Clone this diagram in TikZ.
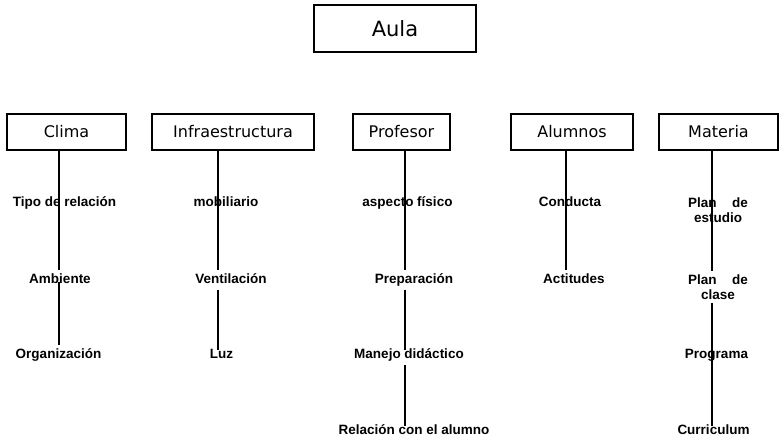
\documentclass[tikz,border=0pt]{standalone}
\usepackage{fontspec}
\setmainfont{Liberation Sans}
\newfontfamily\boxfont{DejaVu Sans}
\begin{document}
\begin{tikzpicture}[x=1pt,y=-1pt,
  catbox/.style={draw, line width=1.8pt, minimum height=36pt, inner sep=0pt,
    font=\boxfont\fontsize{16}{19}\selectfont},
  item/.style={font=\bfseries\fontsize{13.5}{15}\selectfont, text height=10pt,
    text depth=3pt, inner xsep=1pt, inner ysep=3pt},
  item2/.style={font=\bfseries\fontsize{13.5}{15}\selectfont, align=center,
    inner xsep=1pt, inner ysep=3pt},
  conn/.style={line width=1.7pt},
  longer/.style={shorten >=-5pt}]
\useasboundingbox (0,0) rectangle (780,440);
% top box
\node[catbox, minimum width=162pt, minimum height=47pt,
  font=\boxfont\fontsize{21}{25}\selectfont] (aula) at (395,28.5) {Aula};
% category boxes
\node[catbox, minimum width=119pt] (clima) at (66.5,132) {Clima};
\node[catbox, minimum width=162pt] (infra) at (233,132) {Infraestructura};
\node[catbox, minimum width=97pt]  (prof)  at (401.5,132) {Profesor};
\node[catbox, minimum width=122pt] (alum)  at (572,132) {Alumnos};
\node[catbox, minimum width=119pt] (mat)   at (718.5,132) {Materia};
% line x positions
\coordinate (xc) at (59,0);
\coordinate (xi) at (218,0);
\coordinate (xp) at (405,0);
\coordinate (xa) at (566,0);
\coordinate (xm) at (712,0);
% Clima items
\node[item] (c1) at (64.5,203) {Tipo de relación};
\node[item] (c2) at (60,280) {Ambiente};
\node[item] (c3) at (58.5,355) {Organización};
% Infraestructura items
\node[item] (i1) at (226,203) {mobiliario};
\node[item] (i2) at (231,280) {Ventilación};
\node[item] (i3) at (221.5,355) {Luz};
% Profesor items
\node[item] (p1) at (407.5,203) {aspecto físico};
\node[item] (p2) at (414,280) {Preparación};
\node[item] (p3) at (409,355) {Manejo didáctico};
\node[item] (p4) at (414,431) {Relación con el alumno};
% Alumnos items
\node[item] (a1) at (570,203) {Conducta};
\node[item] (a2) at (574,280) {Actitudes};
% Materia items
\node[item2] (m1) at (718,210.5) {\makebox[60pt][s]{Plan de}\\estudio};
\node[item2] (m2) at (718,287) {\makebox[60pt][s]{Plan de}\\clase};
\node[item] (m3) at (716.5,355) {Programa};
\node[item] (m4) at (713.5,431) {Curriculum};
% connectors
\draw[conn] (clima.south -| xc) -- (c2.north -| xc);
\draw[conn, shorten <=-8pt] (c2.south -| xc) -- (c3.north -| xc);
\draw[conn] (infra.south -| xi) -- (i2.north -| xi);
\draw[conn, longer] (i2.south -| xi) -- (i3.north -| xi);
\draw[conn] (prof.south -| xp) -- (p2.north -| xp);
\draw[conn, longer] (p2.south -| xp) -- (p3.north -| xp);
\draw[conn, longer] (p3.south -| xp) -- (p4.north -| xp);
\draw[conn] (alum.south -| xa) -- (a2.north -| xa);
\draw[conn] (mat.south -| xm) -- (m2.north -| xm);
\draw[conn, longer] (m2.south -| xm) -- (m4.north -| xm);
\end{tikzpicture}
\end{document}
